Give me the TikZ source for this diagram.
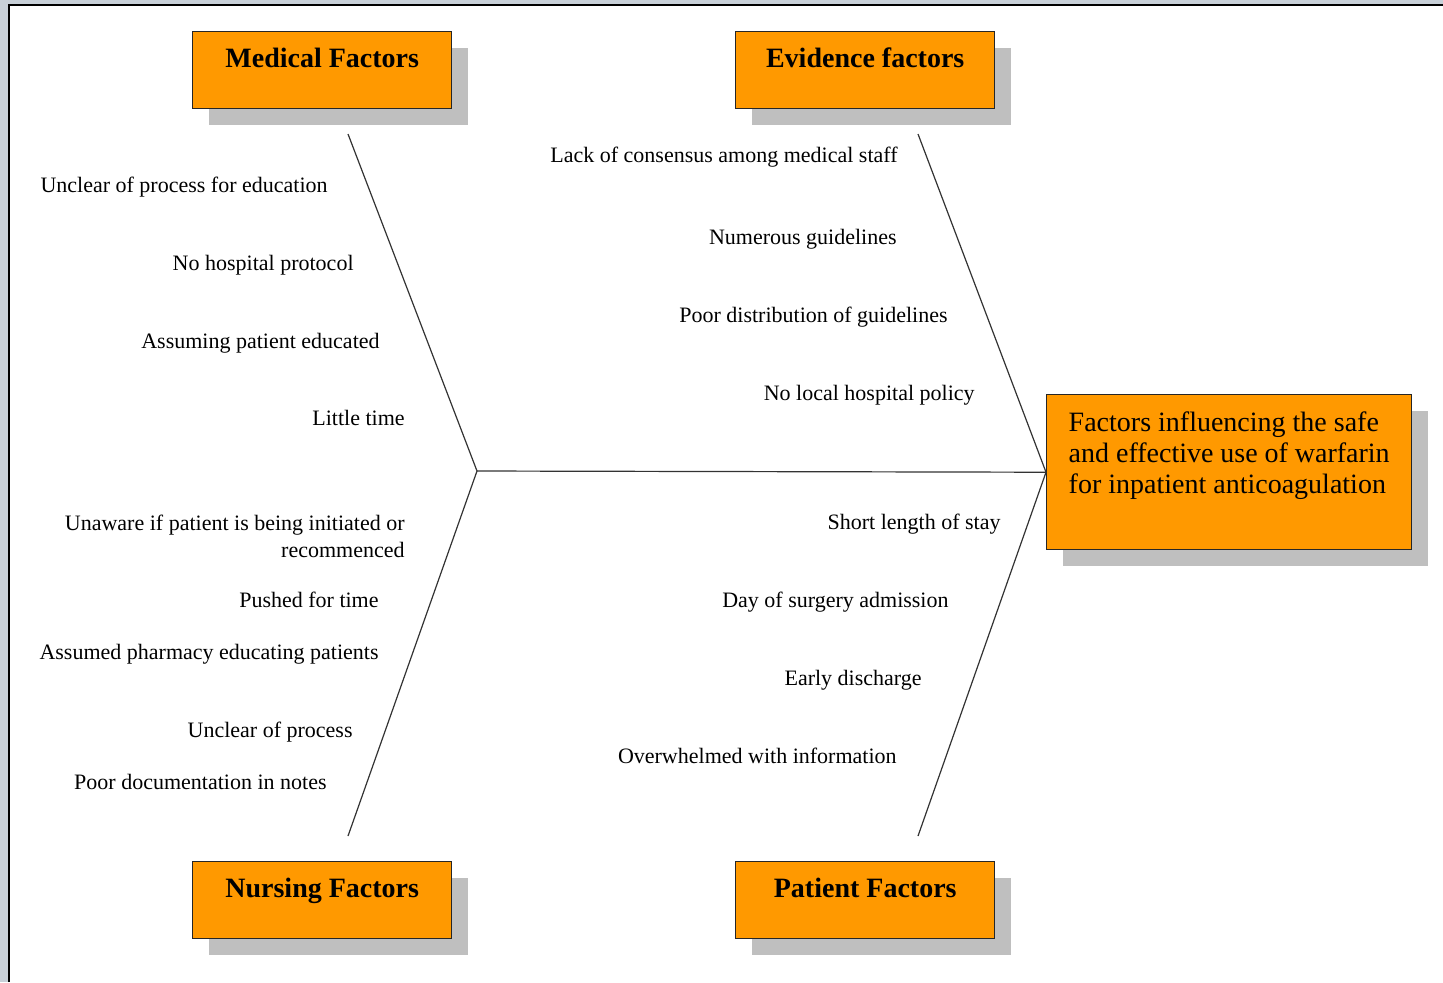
\documentclass[tikz,border=0pt]{standalone}
\usepackage{fontspec}
\setmainfont{Liberation Serif}
\usepackage{xcolor}
\usepackage{tikz}
\usetikzlibrary{positioning, shadows}

\definecolor{fishorange}{HTML}{FF9900}
\definecolor{winframe}{RGB}{200,208,216}

\begin{document}
\begin{tikzpicture}[
    x=0.5pt, y=-0.5pt,
    category/.style={rectangle, anchor=north west, draw=black!85, line width=0.7pt, fill=fishorange, minimum width=129.5pt, inner xsep=0pt, inner ysep=0pt, text height=18pt, text depth=20.5pt, font=\fontsize{14}{16}\selectfont\bfseries, drop shadow={shadow xshift=8pt, shadow yshift=-8pt, fill=black!25, opacity=1}},
    effectbox/.style={rectangle, anchor=north west, draw=black!85, line width=0.7pt, fill=fishorange, inner xsep=11pt, inner ysep=8.4pt, font=\fontsize{14}{15.5}\selectfont, drop shadow={shadow xshift=8pt, shadow yshift=-8pt, fill=black!25, opacity=1}},
    cause/.style={anchor=east, inner sep=0pt, text height=7.5pt, text depth=2.3pt, font=\fontsize{11}{13.5}\selectfont},
    bone/.style={draw=black!80, line width=0.6pt}
]
\useasboundingbox (0,0) rectangle (1443,982);
\fill[winframe] (0,0) rectangle (1443,982);
\fill[white] (10,6) rectangle (1443,982);
\draw[line width=1pt] (9,982) |- (1443,5);

% heads of the four bones and the effect
\node[category] (medical) at (192,31) {Medical Factors};
\node[category] (evidence) at (735,31) {Evidence factors};
\node[category] (nursing) at (192,861) {Nursing Factors};
\node[category] (patient) at (735,861) {Patient Factors};
\node[effectbox] (effect) at (1046,394) {\parbox[t][60.7pt][t]{160.5pt}{Factors influencing the safe\\ and effective use of warfarin\\ for inpatient anticoagulation}};

\coordinate (joint) at (477,471);
\coordinate (medtop) at (348,134);
\coordinate (nurbot) at (348,836);
\coordinate (evitop) at (918,134);
\coordinate (patbot) at (918,836);

\draw[bone] (joint) -- (effect.west);
\draw[bone] (medtop) -- (joint) -- (nurbot);
\draw[bone] (evitop) -- (effect.west) -- (patbot);

% medical causes
\node[cause] (m1) at (328,187) {Unclear of process for education};
\node[cause] (m2) at (354,265) {No hospital protocol};
\node[cause] (m3) at (380,343) {Assuming patient educated};
\node[cause] (m4) at (405,420) {Little time};

% nursing causes
\node[cause, align=right, text height=, text depth=] (n1) at (405,536) {Unaware if patient is being initiated or\\ recommenced};
\node[cause] (n2) at (379,602) {Pushed for time};
\node[cause] (n3) at (379,654) {Assumed pharmacy educating patients};
\node[cause] (n4) at (353,732) {Unclear of process};
\node[cause] (n5) at (327,784) {Poor documentation in notes};

% evidence causes
\node[cause] (e1) at (898,157) {Lack of consensus among medical staff};
\node[cause] (e2) at (897,239) {Numerous guidelines};
\node[cause] (e3) at (948,317) {Poor distribution of guidelines};
\node[cause] (e4) at (975,395) {No local hospital policy};

% patient causes
\node[cause] (p1) at (1001,524) {Short length of stay};
\node[cause] (p2) at (949,602) {Day of surgery admission};
\node[cause] (p3) at (922,680) {Early discharge};
\node[cause] (p4) at (897,758) {Overwhelmed with information};
\end{tikzpicture}
\end{document}
